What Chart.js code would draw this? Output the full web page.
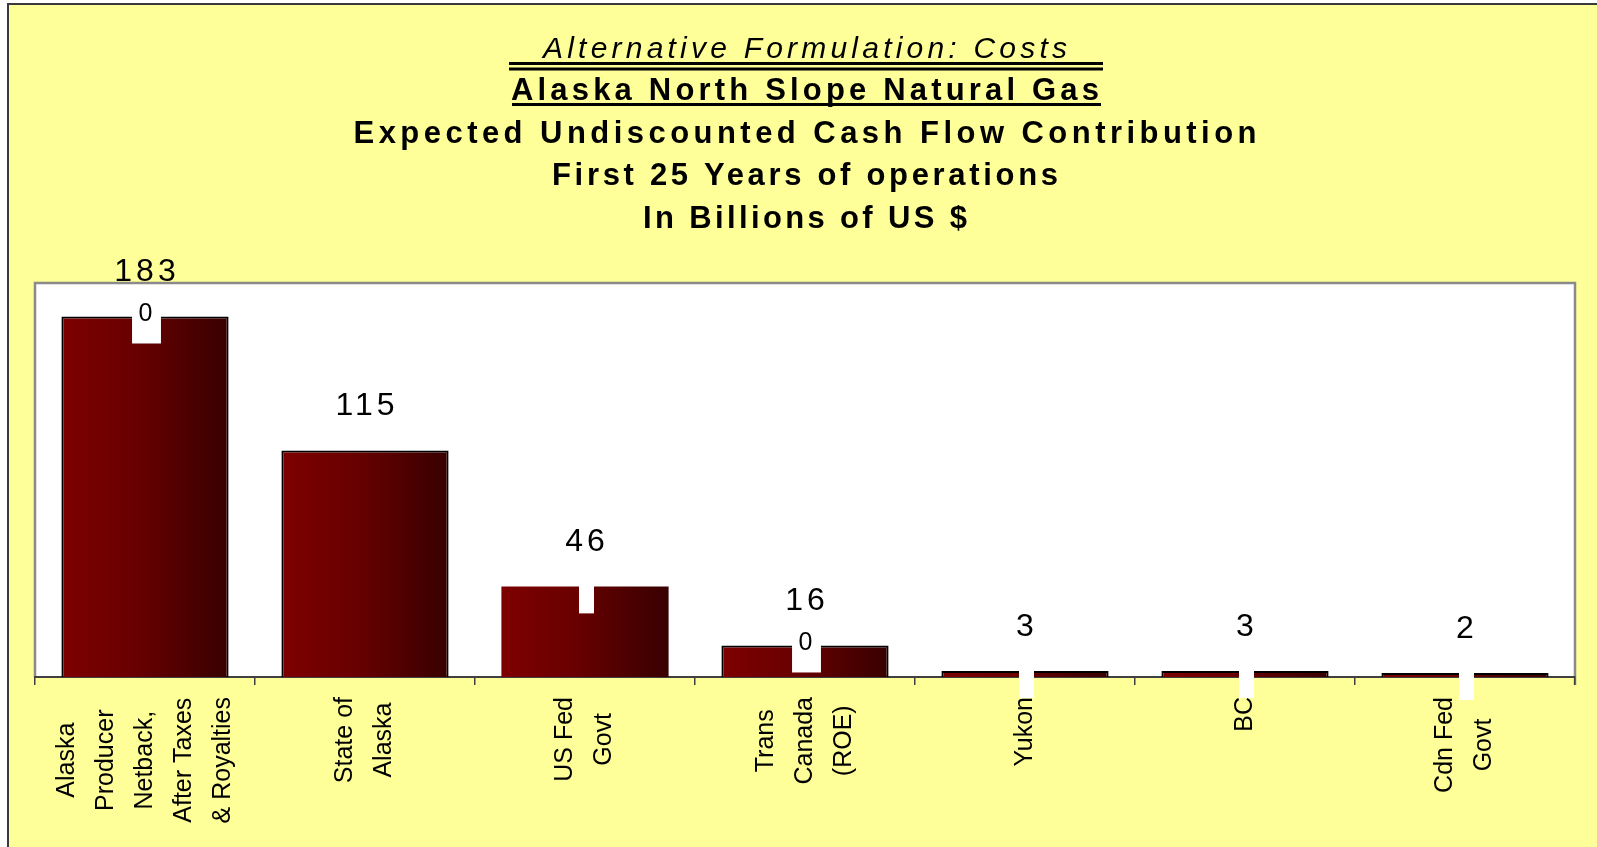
<!DOCTYPE html>
<html lang="en">

<head>
    <meta charset="UTF-8">
    <script src="https://cdn.jsdelivr.net/npm/chart.js@4.4.0/dist/chart.umd.min.js"></script>
    <title>Alaska North Slope Natural Gas</title>
    <style>
        html, body { margin: 0; padding: 0; background: #fff; }
        #wrap { width: 1597px; height: 847px; }
    </style>
</head>

<body>
    <div id="wrap"><canvas id="myChart" width="1597" height="847"></canvas></div>

    <script>
        // data (billions of US $)
        const categories = [
            ['Alaska', 'Producer', 'Netback,', 'After Taxes', '& Royalties'],
            ['State of', 'Alaska'],
            ['US Fed', 'Govt'],
            ['Trans', 'Canada', '(ROE)'],
            ['Yukon'],
            ['BC'],
            ['Cdn Fed', 'Govt']
        ];
        const cashFlow = [183, 115, 46, 16, 3, 3, 2];
        // second (empty) series stacked on top, its labels show as white boxes
        const hiddenLabels = ['0', null, '', '0', '', '', ''];
        const hiddenSeries = hiddenLabels.map(l => l === null ? null : 0);
        const yMax = 200;

        const titleLines = [
            'Alternative Formulation: Costs',
            'Alaska North Slope Natural Gas',
            'Expected Undiscounted Cash Flow Contribution',
            'First 25 Years of operations',
            'In Billions of US $'
        ];

        const FONT = '"Liberation Sans", Arial, sans-serif';
        const titleStyle = [
            { font: 'italic 30px ' + FONT, y: 58, width: 524 },
            { font: 'bold 31px ' + FONT, y: 100, width: 588 },
            { font: 'bold 31px ' + FONT, y: 143, width: 903 },
            { font: 'bold 31px ' + FONT, y: 185, width: 506 },
            { font: 'bold 31px ' + FONT, y: 228, width: 324 }
        ];
        const BAR_PCT = 0.76;

        function barGradient(c) {
            const chart = c.chart, area = chart.chartArea;
            if (!area || c.dataIndex === undefined) return '#6a0000';
            const x = chart.scales.x.getPixelForValue(c.dataIndex);
            const half = (area.right - area.left) / categories.length * BAR_PCT / 2;
            const g = chart.ctx.createLinearGradient(x - half, 0, x + half, 0);
            g.addColorStop(0, '#7e0000');
            g.addColorStop(0.45, '#680000');
            g.addColorStop(1, '#380000');
            return g;
        }

        function spacedLine(ctx, text, cx, y, width) {
            ctx.letterSpacing = '0px';
            const raw = ctx.measureText(text).width;
            ctx.letterSpacing = ((width - raw) / (text.length - 1)) + 'px';
            ctx.textAlign = 'left';
            ctx.fillText(text, cx - width / 2, y);
            ctx.letterSpacing = '0px';
        }

        const panelPlugin = {
            id: 'panel',
            beforeDraw(chart) {
                const c = chart.ctx, a = chart.chartArea;
                c.save();
                c.fillStyle = '#ffffff';
                c.fillRect(0, 0, chart.width, chart.height);
                c.fillStyle = '#ffff99';
                c.fillRect(8, 5, chart.width - 8, chart.height - 5);
                c.strokeStyle = '#3a3a3a';
                c.lineWidth = 2;
                c.beginPath();
                c.moveTo(8, chart.height);
                c.lineTo(8, 4);
                c.lineTo(chart.width, 4);
                c.stroke();

                // plot area
                c.fillStyle = '#ffffff';
                c.fillRect(a.left, a.top, a.right - a.left, a.bottom - a.top);
                c.strokeStyle = '#8a8a8a';
                c.lineWidth = 2.5;
                c.beginPath();
                c.moveTo(a.left, a.bottom);
                c.lineTo(a.left, a.top);
                c.lineTo(a.right, a.top);
                c.lineTo(a.right, a.bottom + 8);
                c.stroke();

                // titles
                c.fillStyle = '#000';
                c.textBaseline = 'alphabetic';
                const cx = (a.left + a.right) / 2;
                titleLines.forEach((t, i) => {
                    c.font = titleStyle[i].font;
                    spacedLine(c, t, cx, titleStyle[i].y, titleStyle[i].width);
                });
                c.fillRect(509, 62, 594, 3);
                c.fillRect(509, 67.5, 594, 3);
                c.fillRect(512, 103, 589, 3);
                c.restore();
            }
        };

        const labelPlugin = {
            id: 'labels',
            afterDatasetsDraw(chart) {
                const c = chart.ctx;
                const bars = chart.getDatasetMeta(0).data;
                const tops = chart.getDatasetMeta(1).data;
                c.save();

                // value labels
                c.fillStyle = '#000';
                c.font = '32px ' + FONT;
                c.letterSpacing = '4px';
                c.textAlign = 'center';
                c.textBaseline = 'alphabetic';
                bars.forEach((b, i) => {
                    c.fillText(String(cashFlow[i]), b.x + 2, b.y - 35);
                });
                c.letterSpacing = '0px';

                // labels of the empty stacked series
                c.font = '25px ' + FONT;
                tops.forEach((b, i) => {
                    const txt = hiddenLabels[i];
                    if (txt === null) return;
                    const w = c.measureText(txt).width + 15;
                    c.fillStyle = '#ffffff';
                    c.fillRect(b.x + 1.5 - w / 2, b.y - 11, w, 38);
                    c.fillStyle = '#000';
                    c.textBaseline = 'middle';
                    c.fillText(txt, b.x + 0.5, b.y - 2);
                });

                // category labels, rotated, lines centred in their block
                const xs = chart.scales.x;
                const top = chart.chartArea.bottom + 20;
                c.font = '25px ' + FONT;
                c.textBaseline = 'middle';
                c.textAlign = 'center';
                categories.forEach((lines, i) => {
                    const x = xs.getPixelForValue(i);
                    const maxW = Math.max(...lines.map(l => c.measureText(l).width));
                    c.save();
                    c.translate(x, top + maxW);
                    c.rotate(-Math.PI / 2);
                    lines.forEach((l, j) => {
                        c.fillText(l, maxW / 2, (j - (lines.length - 1) / 2) * 39);
                    });
                    c.restore();
                });
                c.restore();
            }
        };

        var ctx = document.getElementById('myChart').getContext('2d');
        var myChart = new Chart(ctx, {
            type: 'bar',
            data: {
                labels: categories.map(c => c.join(' ')),
                datasets: [{
                    label: 'Cash flow contribution',
                    data: cashFlow,
                    backgroundColor: barGradient,
                    borderColor: '#000',
                    borderWidth: [2, 2, 0, 2, 2, 2, 2],
                    borderSkipped: 'bottom',
                    barPercentage: BAR_PCT,
                    categoryPercentage: 1
                }, {
                    label: 'hidden',
                    data: hiddenSeries,
                    backgroundColor: 'rgba(0,0,0,0)',
                    borderWidth: 0,
                    barPercentage: BAR_PCT,
                    categoryPercentage: 1
                }]
            },
            options: {
                responsive: false,
                animation: false,
                layout: { padding: { left: 35, right: 22, top: 283, bottom: 0 } },
                plugins: {
                    legend: { display: false },
                    title: { display: false },
                    tooltip: { enabled: false }
                },
                scales: {
                    x: {
                        stacked: true,
                        grid: { offset: true, drawOnChartArea: false, tickLength: 8, color: '#404040', lineWidth: 1.5 },
                        border: { color: '#404040', width: 2 },
                        ticks: { display: false },
                        afterFit: s => { s.height = 170; }
                    },
                    y: { stacked: true, display: false, min: 0, max: yMax }
                }
            },
            plugins: [panelPlugin, labelPlugin]
        });
    </script>

</body>

</html>
